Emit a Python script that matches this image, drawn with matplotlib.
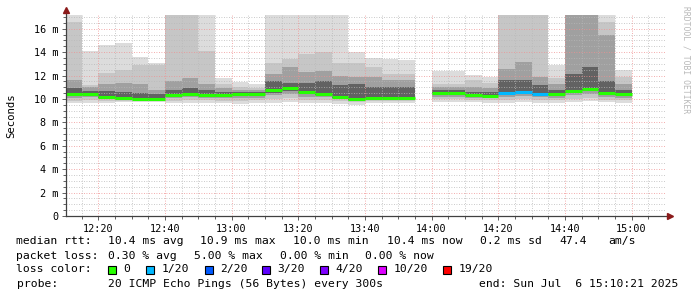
"""SmokePing style latency graph (median rtt with smoke bands)."""

import matplotlib
matplotlib.use('Agg')
import matplotlib.pyplot as plt
from matplotlib.patches import Rectangle
import numpy as np

nan = np.nan

# 5 minute steps, minutes after 12:00 (start of each step)
step_start = [10, 15, 20, 25, 30, 35, 40, 45, 50, 55, 60, 65, 70, 75, 80, 85, 90,
              95, 100, 105, 110, 115, 120, 125, 130, 135, 140, 145, 150, 155, 160,
              165, 170, 175]

# rtt in ms
rtt_med = [10.43, 10.43, 10.20, 10.06, 10.03, 10.00, 10.31, 10.43, 10.34, 10.31, 10.40,
           10.40, 10.77, 10.91, 10.57, 10.43, 10.20, 10.03, 10.06, 10.06, 10.06, nan,
           10.54, 10.54, 10.34, 10.28, 10.51, 10.60, 10.46, 10.40, 10.71, 10.85, 10.54, 10.40]
rtt_max = [18, 14.1, 14.6, 14.75, 13.6, 13.1, 18, 18, 18, 11.8, 11.45, 11.25, 18, 18, 18,
           18, 18, 14.0, 13.5, 13.4, 13.3, nan, 12.4, 12.4, 12.05, 11.9, 18, 18, 18, 12.9,
           18, 18, 18, 12.5]
rtt_hi2 = [16.6, 11.2, 12.2, 12.5, 12.9, 12.9, 18, 18, 14.1, 11.3, 11.0, 10.95, 13.1, 13.4,
           13.8, 14.0, 13.1, 13.1, 12.7, 12.1, 12.1, nan, 11.3, 11.3, 11.6, 11.4, 18, 18, 18,
           11.8, 18, 18, 16.6, 11.9]
rtt_hi3 = [11.6, 11.0, 11.3, 11.4, 11.3, 10.8, 11.5, 11.8, 11.3, 10.9, 10.8, 10.75, 12.1,
           12.7, 12.3, 12.4, 12.0, 11.9, 11.9, 11.6, 11.6, nan, 11.0, 11.0, 11.0, 10.9, 12.6,
           13.2, 11.9, 11.3, 18, 18, 15.5, 11.3]
rtt_hi4 = [10.9, 10.7, 10.7, 10.6, 10.5, 10.4, 10.8, 10.9, 10.8, 10.6, 10.6, 10.6, 11.5,
           11.4, 11.4, 11.5, 11.2, 11.3, 11.0, 11.0, 11.0, nan, 10.8, 10.8, 10.6, 10.6, 11.6,
           11.6, 11.2, 10.8, 12.1, 12.7, 11.5, 10.8]
rtt_lo4 = [10.3, 10.3, 10.1, 9.98, 9.96, 9.95, 10.2, 10.3, 10.22, 10.2, 10.3, 10.3, 10.55,
           10.65, 10.4, 10.3, 10.1, 9.95, 9.98, 9.98, 9.98, nan, 10.4, 10.4, 10.25, 10.18,
           10.35, 10.45, 10.35, 10.3, 10.55, 10.65, 10.4, 10.3]
rtt_lo3 = [10.1, 10.15, 10.0, 9.92, 9.92, 9.9, 10.05, 10.15, 10.1, 10.05, 10.1, 10.1, 10.3,
           10.4, 10.2, 10.15, 10.0, 9.85, 9.9, 9.9, 9.9, nan, 10.2, 10.2, 10.1, 10.05, 10.2,
           10.25, 10.15, 10.1, 10.3, 10.4, 10.2, 10.1]
rtt_lo2 = [9.85, 9.90, 9.85, 9.85, 9.85, 9.82, 9.85, 9.90, 9.90, 9.85, 9.85, 9.88, 10.0,
           10.1, 9.9, 9.9, 9.8, 9.7, 9.8, 9.8, 9.8, nan, 10.0, 10.0, 9.95, 9.9, 9.95, 10.0,
           9.95, 9.9, 10.0, 10.05, 9.95, 9.9]
rtt_min = [9.63, 9.69, 9.69, 9.74, 9.74, 9.74, 9.63, 9.69, 9.69, 9.63, 9.57, 9.63, 9.69,
           9.74, 9.63, 9.63, 9.57, 9.49, 9.63, 9.63, 9.63, nan, 9.77, 9.77, 9.74, 9.69, 9.69,
           9.77, 9.69, 9.69, 9.74, 9.80, 9.74, 9.69]

# lost pings out of 20 per step
loss = [0, 0, 0, 0, 0, 0, 0, 0, 0, 0, 0, 0, 0, 0, 0, 0, 0, 0, 0, 0, 0, 0,
        0, 0, 0, 0, 1, 1, 1, 0, 0, 0, 0, 0]

loss_labels = ['0', '1/20', '2/20', '3/20', '4/20', '10/20', '19/20']
loss_levels = [0, 1, 2, 3, 4, 10, 19]
loss_colors = ['#26ff00', '#00b8ff', '#0059ff', '#5e00ff', '#7e00ff', '#dd00ff', '#ff0000']

x_ticks = [20, 40, 60, 80, 100, 120, 140, 160, 180]
x_ticklabels = ['12:20', '12:40', '13:00', '13:20', '13:40', '14:00', '14:20', '14:40', '15:00']
y_ticks = [0, 2, 4, 6, 8, 10, 12, 14, 16]
y_ticklabels = ['0', '2 m', '4 m', '6 m', '8 m', '10 m', '12 m', '14 m', '16 m']

W, H = 697, 297
MONO = 'DejaVu Sans Mono'


def px(x, y):
    """Pixel position -> figure fraction."""
    return x / W, 1 - y / H


def draw_smoke(ax):
    t = np.array(step_start, dtype=float)
    bands = [(rtt_min, rtt_max, '#dcdcdc'),
             (rtt_lo2, rtt_hi2, '#c6c6c6'),
             (rtt_lo3, rtt_hi3, '#a0a0a0'),
             (rtt_lo4, rtt_hi4, '#626262')]
    for lo, hi, color in bands:
        lo = np.array(lo, dtype=float)
        hi = np.array(hi, dtype=float)
        ok = ~np.isnan(lo)
        ax.bar(t[ok], hi[ok] - lo[ok], bottom=lo[ok], width=5, align='edge',
               color=color, linewidth=0, zorder=1)

    for ts, med, lost in zip(step_start, rtt_med, loss):
        if np.isnan(med):
            continue
        color = loss_colors[loss_levels.index(lost)]
        ax.hlines(med, ts, ts + 5, color=color, linewidth=2.2, zorder=4)


def style_axes(ax):
    ax.set_xlim(10.35, 190.35)
    ax.set_ylim(0, 17.2)
    for s in ax.spines.values():
        s.set_visible(False)

    ax.set_xticks(x_ticks)
    ax.set_xticklabels(x_ticklabels, family=MONO, fontsize=7.3)
    ax.set_xticks(np.arange(15, 190, 5), minor=True)
    ax.set_yticks(y_ticks)
    ax.set_yticklabels(y_ticklabels, family=MONO, fontsize=7.3)
    ax.set_yticks(np.arange(0.5, 17.2, 0.5), minor=True)
    ax.tick_params(which='both', direction='out', color='#606060', width=0.7)
    ax.tick_params(which='major', length=3, pad=2.5)
    ax.tick_params(which='minor', length=2)

    ax.set_axisbelow(False)
    ax.grid(True, which='minor', color='#b8b8b8', linewidth=0.6, linestyle=(0, (1, 2)), zorder=2)
    ax.grid(True, which='major', color='#f09090', linewidth=0.6, linestyle=(0, (1, 2)), zorder=2)

    ax.set_ylabel('Seconds', family=MONO, fontsize=7.7, labelpad=13)

    # axis lines with arrow heads
    ax.plot([0, 0], [0, 1.025], transform=ax.transAxes, color='#404040', lw=0.9,
            clip_on=False, zorder=5)
    ax.plot([0, 1.005], [0, 0], transform=ax.transAxes, color='#404040', lw=0.9,
            clip_on=False, zorder=5)
    ax.plot([0], [1.025], marker='^', ms=4, color='#8b1a1a', transform=ax.transAxes,
            clip_on=False, zorder=6)
    ax.plot([1.007], [0], marker='>', ms=4, color='#8b1a1a', transform=ax.transAxes,
            clip_on=False, zorder=6)


def draw_legend(fig):
    kw = dict(family=MONO, fontsize=8.2, va='center', ha='left', color='#000000')
    rows = [
        (240.7, [(16.5, 'median rtt:'), (107.8, '10.4 ms avg'), (200.4, '10.9 ms max'),
                 (293, '10.0 ms min'), (387.5, '10.4 ms now'), (480, '0.2 ms sd'),
                 (559, '47.4'), (608, 'am/s')]),
        (255.7, [(16.5, 'packet loss:'), (108, '0.30 % avg'), (194, '5.00 % max'),
                 (280, '0.00 % min'), (365, '0.00 % now')]),
        (269.3, [(16.5, 'loss color:')]),
        (283.7, [(16.5, 'probe:'), (108, '20 ICMP Echo Pings (56 Bytes) every 300s'),
                 (479, 'end: Sun Jul  6 15:10:21 2025')]),
    ]
    for y, items in rows:
        for x, s in items:
            fig.text(*px(x, y), s, **kw)

    box_x = [108, 146, 205, 262, 320, 378, 443]
    for bx, label, color in zip(box_x, loss_labels, loss_colors):
        x0, y0 = px(bx, 273.5)
        fig.patches.append(Rectangle((x0, y0), 8 / W, 8 / H, transform=fig.transFigure,
                                     facecolor=color, edgecolor='#000000', linewidth=0.8))
        fig.text(*px(bx + 15.5, 269.3), label, **kw)

    fig.text(*px(686, 6), 'RRDTOOL / TOBI OETIKER', family=MONO, fontsize=5.8,
             color='#b8b8b8', rotation=270, ha='center', va='top')


def main():
    fig = plt.figure(figsize=(W / 100, H / 100), dpi=100)
    fig.patch.set_facecolor('white')
    ax = fig.add_axes([66 / W, 81 / H, 600 / W, 201.3 / H])

    draw_smoke(ax)
    style_axes(ax)
    draw_legend(fig)

    fig.savefig('out.png', dpi=100)
    print('saved out.png')


if __name__ == '__main__':
    main()
